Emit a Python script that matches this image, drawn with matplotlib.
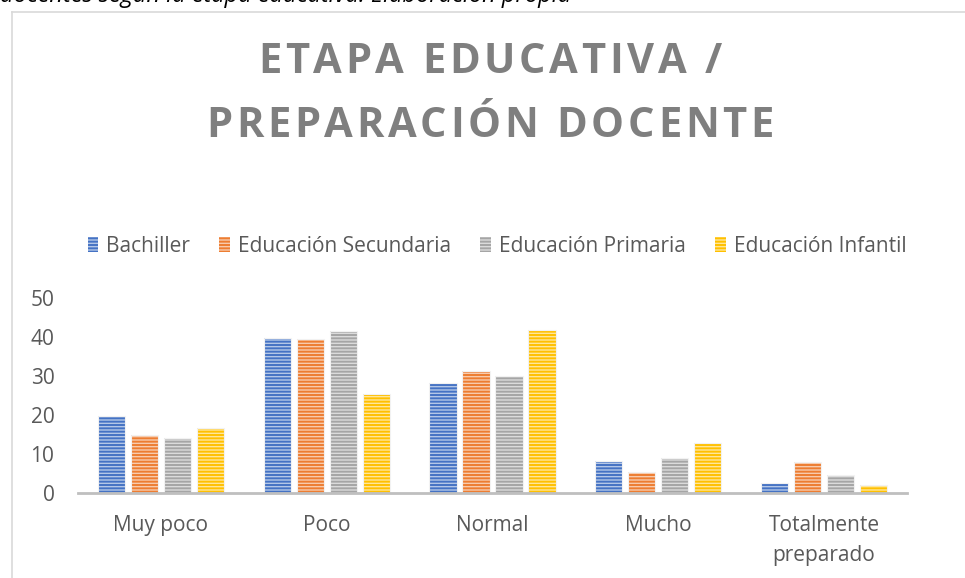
import matplotlib
matplotlib.use("Agg")
import matplotlib.pyplot as plt
import numpy as np
from matplotlib.lines import Line2D
from matplotlib.patches import Patch

categories = ["Muy poco", "Poco", "Normal", "Mucho", "Totalmente\npreparado"]
series_names = ["Bachiller", "Educación Secundaria", "Educación Primaria", "Educación Infantil"]
bachiller = [19.8, 39.7, 28.3, 8.2, 2.6]
secundaria = [14.8, 39.4, 31.3, 5.3, 7.9]
primaria = [14.1, 41.5, 29.9, 8.9, 4.6]
infantil = [16.7, 25.4, 41.8, 12.8, 2.0]
yticks = [0, 10, 20, 30, 40, 50]
title_lines = ["ETAPA EDUCATIVA /", "PREPARACIÓN DOCENTE"]

colors = ["#4472C4", "#ED7D31", "#A5A5A5", "#FFC000"]
light = ["#B4C7E7", "#F8CBAD", "#DBDBDB", "#FFE699"]

plt.rcParams['font.family'] = ['Open Sans', 'DejaVu Sans']
plt.rcParams['hatch.linewidth'] = 1.4

W, H = 965, 578
fig = plt.figure(figsize=(W/100, H/100), dpi=100)
ax = fig.add_axes([78/W, 1-493/H, (907-78)/W, (493-298)/H])

x = np.arange(len(categories))
step = 0.199
width = 0.163
data = [bachiller, secundaria, primaria, infantil]
for i, vals in enumerate(data):
    off = (i - 1.5) * step
    ax.bar(x + off, vals, width, color=light[i], edgecolor=colors[i],
           linewidth=0, hatch='-----', zorder=2)
    ax.bar(x + off, vals, width, facecolor='none', edgecolor='#F2F2F2',
           linewidth=0.8, zorder=3)

ax.set_xlim(-0.5, 4.5)
ax.set_ylim(0, 50)
ax.set_yticks(yticks)
ax.set_xticks(x)
ax.set_xticklabels(categories, fontsize=15, color='#595959', linespacing=1.55)
ax.tick_params(axis='y', length=0, pad=17, labelsize=15, labelcolor='#595959')
ax.tick_params(axis='x', length=0, pad=16)
for s in ['top', 'right', 'left']:
    ax.spines[s].set_visible(False)
ax.spines['bottom'].set_color('#BFBFBF')
ax.spines['bottom'].set_linewidth(2)
ax.spines['bottom'].set_zorder(4)

handles = [Patch(facecolor=light[i], edgecolor=colors[i], hatch='-----', linewidth=0)
           for i in range(4)]
fig.legend(handles, series_names, loc='center', bbox_to_anchor=(497/W, 1-246/H),
           ncol=4, frameon=False, fontsize=15, labelcolor='#595959',
           handlelength=0.5, handleheight=0.75, handletextpad=0.4, columnspacing=1.4)

# Title with letter spacing (tracking)
renderer = fig.canvas.get_renderer()
tsize = 30
tracking = 3.7
baselines = [73, 137]
for line, base in zip(title_lines, baselines):
    widths = []
    for ch in line:
        t = fig.text(0, 0, ch if ch != ' ' else 'a a', fontsize=tsize, fontweight='bold')
        w = t.get_window_extent(renderer).width
        if ch == ' ':
            t2 = fig.text(0, 0, 'aa', fontsize=tsize, fontweight='bold')
            w = w - t2.get_window_extent(renderer).width
            t2.remove()
        t.remove()
        widths.append(w)
    total = sum(widths) + tracking * (len(line) - 1)
    xpos = 490 - total / 2
    for ch, w in zip(line, widths):
        if ch != ' ':
            fig.text(xpos / W, 1 - base / H, ch, ha='left', va='baseline',
                     fontsize=tsize, fontweight='bold', color='#7F7F7F')
        xpos += w + tracking

fig.text(0/W, 1 - 2.5/H, "docentes según la etapa educativa. Elaboración propia",
         ha='left', va='baseline', fontsize=17, style='italic', color='black')

fig.add_artist(Line2D([12/W, 12/W], [0, 1-12/H], color='#D9D9D9', lw=1.2,
                      transform=fig.transFigure))
fig.add_artist(Line2D([12/W, 1], [1-12/H, 1-12/H], color='#D9D9D9', lw=1.2,
                      transform=fig.transFigure))

fig.savefig("out.png", dpi=100, facecolor='white')
